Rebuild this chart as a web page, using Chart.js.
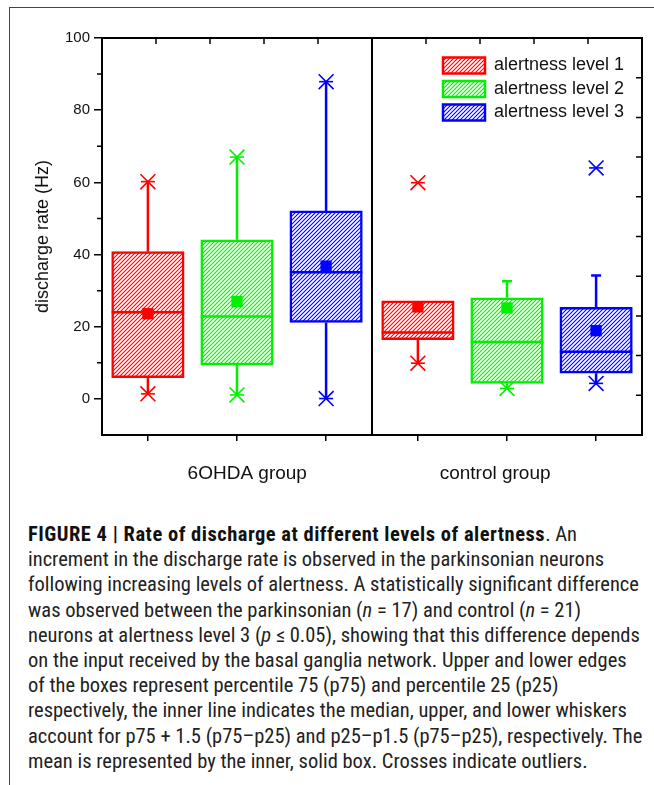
<!DOCTYPE html>
<html><head><meta charset="utf-8">
<script src="https://cdn.jsdelivr.net/npm/chart.js@4"></script>
<style>
html,body{margin:0;padding:0;background:#fff;}
#wrap{position:relative;width:654px;height:785px;overflow:hidden;background:#fff;}
#frame{position:absolute;left:9px;top:7px;width:700px;height:800px;border-left:1.5px solid #444;border-top:1.5px solid #444;}
#cv{position:absolute;left:0;top:0;}
#cap{position:absolute;left:28px;top:522px;font-family:'Roboto Condensed','Liberation Sans Narrow','Roboto',sans-serif;font-size:20.5px;color:#222;line-height:25.2px;white-space:nowrap;}
#cap b{color:#111;letter-spacing:0.5px;}
</style></head>
<body>
<div id="wrap">
<div id="frame"></div>
<canvas id="cv" width="654" height="500"></canvas>
<div id="cap">
<div><b>FIGURE 4 | Rate of discharge at different levels of alertness</b>. An</div>
<div>increment in the discharge rate is observed in the parkinsonian neurons</div>
<div>following increasing levels of alertness. A statistically significant difference</div>
<div>was observed between the parkinsonian (<i>n</i> = 17) and control (<i>n</i> = 21)</div>
<div>neurons at alertness level 3 (<i>p</i> ≤ 0.05), showing that this difference depends</div>
<div>on the input received by the basal ganglia network. Upper and lower edges</div>
<div>of the boxes represent percentile 75 (p75) and percentile 25 (p25)</div>
<div>respectively, the inner line indicates the median, upper, and lower whiskers</div>
<div>account for p75 + 1.5 (p75–p25) and p25–p1.5 (p75–p25), respectively. The</div>
<div>mean is represented by the inner, solid box. Crosses indicate outliers.</div>
</div>
</div>
<script>
// ---- data (index [level][group]) ----
const groups = ['6OHDA group', 'control group'];
const levels = ['alertness level 1', 'alertness level 2', 'alertness level 3'];
const p25 = [[5.9, 16.4], [9.4, 4.3], [21.2, 7.1]];
const p75 = [[40.8, 27.2], [44.1, 28.0], [52.1, 25.4]];
const median = [[24.0, 18.4], [22.8, 15.8], [35.1, 13.1]];
const mean = [[23.6, 25.5], [27.0, 25.2], [36.8, 18.9]];
const whiskerHigh = [[60.2, 27.2], [67.0, 32.6], [87.9, 34.2]];
const whiskerLow = [[1.4, 9.9], [1.1, 2.9], [0.1, 4.3]];
const crossHigh = [[60.2, null], [67.0, null], [87.9, null]];
const crossLow = [[1.4, 9.9], [1.1, 2.9], [0.1, 4.3]];
const capHigh = [[null, null], [null, 32.6], [null, 34.2]];
const outliers = [[[], [59.9]], [[], []], [[], [64.0]]];
const yTickLabels = [0, 20, 40, 60, 80, 100];

// ---- layout / style ----
const colors = ['#ff0000', '#00f000', '#0000ff'];
const groupWidth = 5;
const slotOffset = [0.85, 2.5, 4.15];
const groupLabelPos = [2.69, 7.28];
const xPos = (l, g) => g * groupWidth + slotOffset[l];
const FONT = "'Liberation Sans', Arial, sans-serif";

function hatch(color) {
  const c = document.createElement('canvas');
  c.width = 4; c.height = 4;
  const x = c.getContext('2d');
  x.fillStyle = '#fff'; x.fillRect(0, 0, 4, 4);
  x.strokeStyle = color; x.lineWidth = 1.1;
  x.beginPath();
  x.moveTo(0, 4); x.lineTo(4, 0);
  x.moveTo(-1, 1); x.lineTo(1, -1);
  x.moveTo(3, 5); x.lineTo(5, 3);
  x.stroke();
  return x.createPattern(c, 'repeat');
}

const datasets = [];
levels.forEach((lab, l) => {
  datasets.push({
    type: 'bar', label: lab, order: 10,
    data: groups.map((g, gi) => ({x: xPos(l, gi), y: [p25[l][gi], p75[l][gi]]})),
    backgroundColor: hatch(colors[l]), borderColor: colors[l], borderWidth: 2.5,
    borderSkipped: false, grouped: false, categoryPercentage: 1, barPercentage: 1,
    maxBarThickness: 72.5, xAxisID: 'x', yAxisID: 'y'
  });
});
levels.forEach((lab, l) => {
  const pts = [];
  groups.forEach((g, gi) => {
    const x = xPos(l, gi);
    pts.push({x, y: whiskerLow[l][gi]}, {x, y: p25[l][gi]}, {x, y: null});
    pts.push({x, y: p75[l][gi]}, {x, y: whiskerHigh[l][gi]}, {x, y: null});
  });
  datasets.push({type: 'line', label: 'w' + l, order: 8, data: pts, borderColor: colors[l],
    borderWidth: 2.5, pointRadius: 0, spanGaps: false, xAxisID: 'x', yAxisID: 'y'});
  const pt = (arr) => groups.map((g, gi) => ({x: xPos(l, gi), y: arr[l][gi]})).filter(p => p.y !== null);
  datasets.push({type: 'scatter', label: 'm' + l, order: 6, data: pt(median),
    pointStyle: 'line', pointRadius: 36.25, pointHoverRadius: 36.25, pointBorderWidth: 2.5, pointHoverBorderWidth: 2.5,
    pointBorderColor: colors[l], xAxisID: 'x', yAxisID: 'y'});
  datasets.push({type: 'scatter', label: 'c' + l, order: 6, data: pt(capHigh),
    pointStyle: 'line', pointRadius: 5, pointHoverRadius: 5, pointBorderWidth: 2.5, pointHoverBorderWidth: 2.5,
    pointBorderColor: colors[l], xAxisID: 'x', yAxisID: 'y'});
  datasets.push({type: 'scatter', label: 'a' + l, order: 4, data: pt(mean),
    pointStyle: 'rect', pointRadius: 8, pointHoverRadius: 8, pointBorderWidth: 0,
    pointBackgroundColor: colors[l], pointBorderColor: colors[l], xAxisID: 'x', yAxisID: 'y'});
  const crosses = pt(crossHigh).concat(pt(crossLow));
  groups.forEach((g, gi) => outliers[l][gi].forEach(v => crosses.push({x: xPos(l, gi), y: v})));
  datasets.push({type: 'scatter', label: 'x' + l, order: 2, data: crosses,
    pointStyle: 'crossRot', pointRadius: 10.5, pointHoverRadius: 10.5, pointBorderWidth: 1.6, pointHoverBorderWidth: 1.6,
    pointBorderColor: colors[l], xAxisID: 'x', yAxisID: 'y'});
  datasets.push({type: 'scatter', label: 'h' + l, order: 2, data: crosses,
    pointStyle: 'line', pointRadius: 7, pointHoverRadius: 7, pointBorderWidth: 1.6, pointHoverBorderWidth: 1.6,
    pointBorderColor: colors[l], xAxisID: 'x', yAxisID: 'y'});
});
// group divider
datasets.push({type: 'line', label: 'div', order: 1, data: [{x: groupWidth, y: -10}, {x: groupWidth, y: 100}],
  borderColor: '#000', borderWidth: 2, pointRadius: 0, xAxisID: 'x', yAxisID: 'y'});

const noPad = s => { s.paddingLeft = 0; s.paddingRight = 0; s.paddingTop = 0; s.paddingBottom = 0; };

const extraTicks = {
  id: 'extraTicks',
  afterLayout(chart) {
    const lg = chart.legend;
    if (lg) {
      const w = lg.width, h = lg.height;
      lg.left = 437.5; lg.top = 51; lg.right = lg.left + w; lg.bottom = lg.top + h;
    }
  },
  afterDraw(chart) {
    const {ctx, chartArea: a} = chart;
    const xs = chart.scales.xTop, ys = chart.scales.yRight, yl = chart.scales.y;
    ctx.save();
    ctx.strokeStyle = '#000'; ctx.lineWidth = 1.5;
    ctx.beginPath();
    for (let v = 1; v < 10; v++) { const p = xs.getPixelForValue(v); ctx.moveTo(p, a.top); ctx.lineTo(p, a.top + 6); }
    for (let k = 1; k < 10; k++) { const p = ys.getPixelForValue(-10 + k * 11); ctx.moveTo(a.right, p); ctx.lineTo(a.right - 6, p); }
    for (let v = 10; v < 100; v += 20) { const p = yl.getPixelForValue(v); ctx.moveTo(a.left, p); ctx.lineTo(a.left - 5, p); }
    ctx.stroke();
    ctx.restore();
  }
};

new Chart(document.getElementById('cv'), {
  data: {datasets},
  plugins: [extraTicks],
  options: {
    responsive: false, animation: false, events: [],
    layout: {autoPadding: false, padding: {left: 0, right: 12, top: 38, bottom: 0}},
    plugins: {
      tooltip: {enabled: false},
      legend: {
        position: 'chartArea', align: 'start',
        labels: {
          filter: it => it.datasetIndex < 3,
          boxWidth: 42, boxHeight: 16, padding: 5.5, color: '#111',
          font: {family: FONT, size: 18}
        }
      }
    },
    scales: {
      x: {
        type: 'linear', position: 'bottom', weight: 0, min: 0, max: 10, offset: false,
        afterBuildTicks: s => { s.ticks = []; levels.forEach((lb, l) => groups.forEach((g, gi) => s.ticks.push({value: xPos(l, gi)}))); },
        ticks: {display: false},
        grid: {drawOnChartArea: false, drawTicks: true, tickLength: 6, color: '#000', lineWidth: 1.5, offset: false},
        border: {display: true, color: '#000', width: 2},
        afterFit: s => { s.height = 6; noPad(s); }
      },
      x2: {
        type: 'linear', position: 'bottom', weight: 1, min: 0, max: 10, offset: false,
        afterBuildTicks: s => { s.ticks = groupLabelPos.map(v => ({value: v})); },
        ticks: {callback: (v, i) => groups[i], autoSkip: false, maxRotation: 0, padding: 21, color: '#111', font: {family: FONT, size: 19}},
        grid: {display: false, drawTicks: false},
        border: {display: false},
        afterFit: s => { s.height = 59; noPad(s); }
      },
      xTop: {
        type: 'linear', position: 'top', min: 0, max: 10, offset: false,
        ticks: {display: false}, grid: {display: false, drawTicks: false},
        border: {display: true, color: '#000', width: 2},
        afterFit: s => { s.height = 0; noPad(s); }
      },
      y: {
        type: 'linear', position: 'left', min: -10, max: 100,
        afterBuildTicks: s => { s.ticks = yTickLabels.map(v => ({value: v})); },
        ticks: {color: '#111', padding: 4, font: {family: FONT, size: 15}},
        grid: {drawOnChartArea: false, drawTicks: true, tickLength: 8, color: '#000', lineWidth: 1.5},
        border: {display: true, color: '#000', width: 2},
        title: {display: true, text: 'discharge rate (Hz)', color: '#111', font: {family: FONT, size: 18}, padding: {top: 32, bottom: 0}},
        afterFit: s => { s.width = 102; noPad(s); }
      },
      yRight: {
        type: 'linear', position: 'right', min: -10, max: 100,
        ticks: {display: false}, grid: {display: false, drawTicks: false},
        border: {display: true, color: '#000', width: 2},
        afterFit: s => { s.width = 0; noPad(s); }
      }
    }
  }
});
</script>
</body></html>
